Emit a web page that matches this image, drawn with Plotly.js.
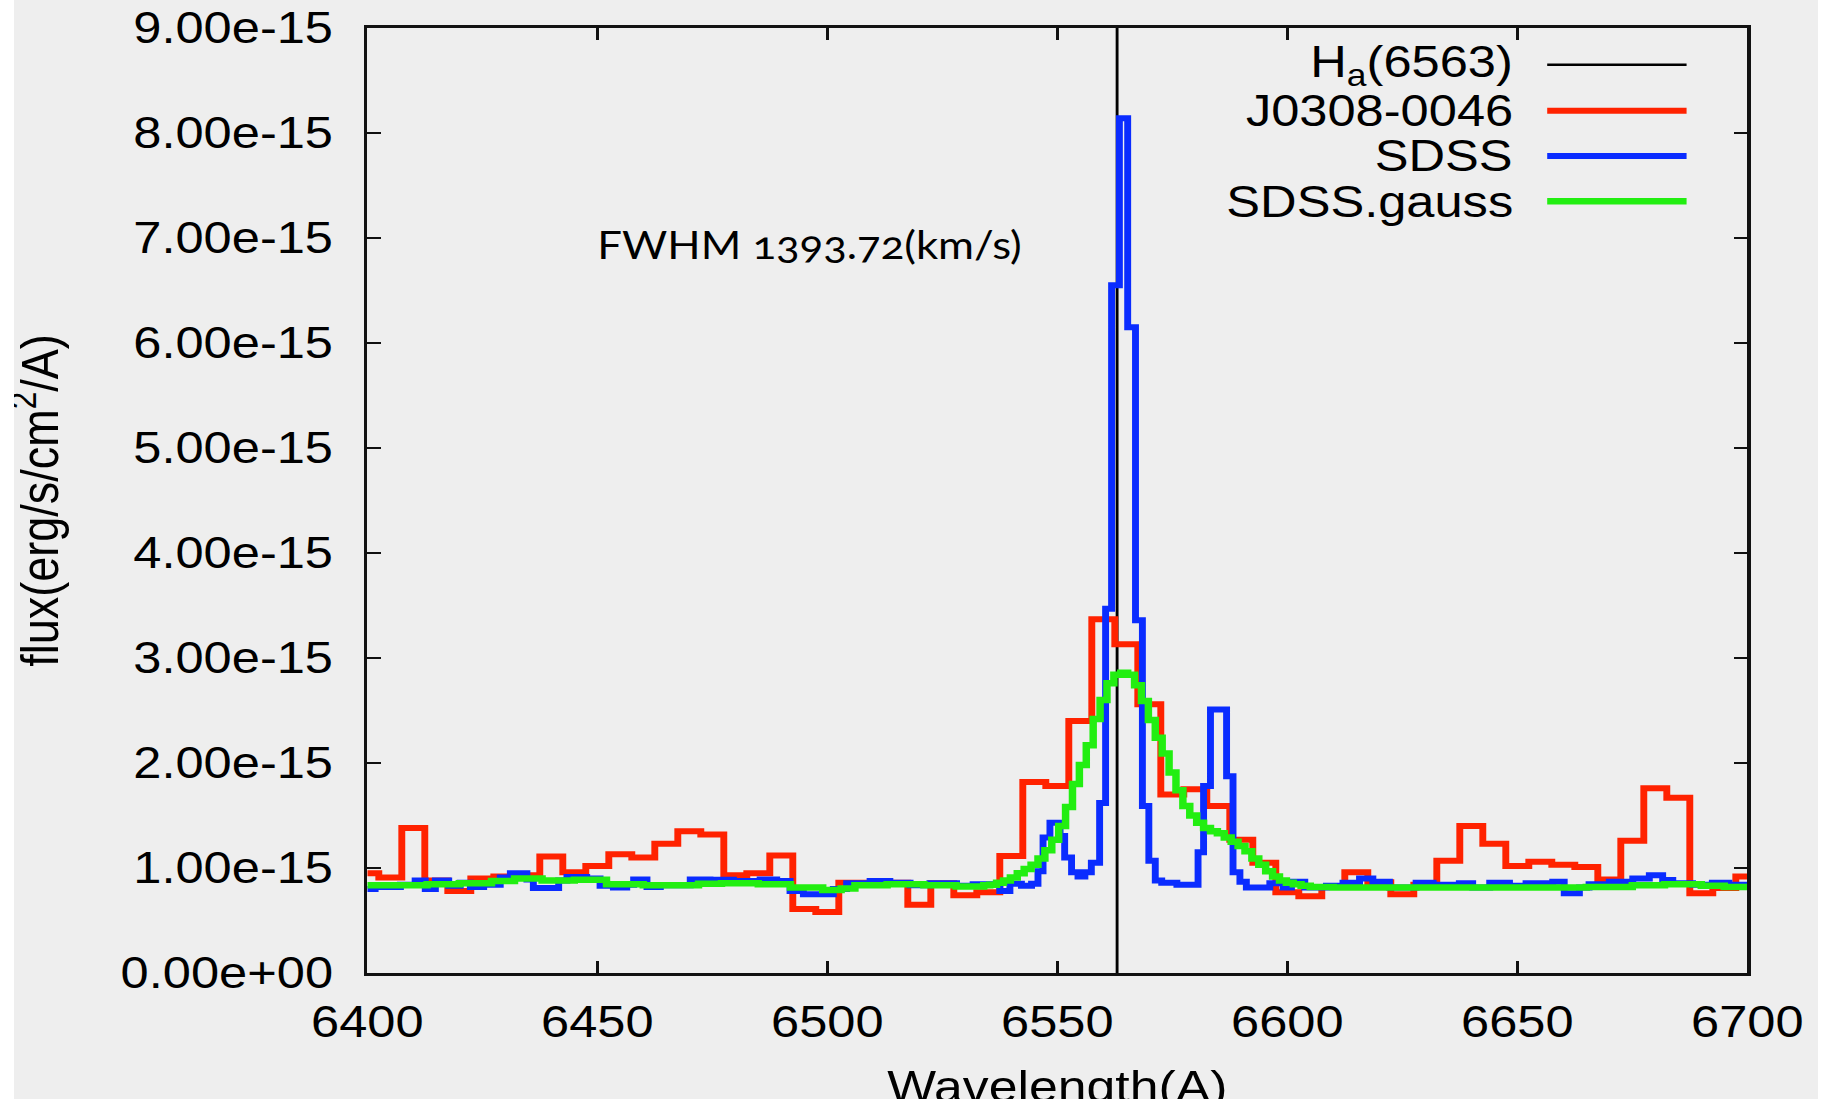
<!DOCTYPE html>
<html>
<head>
<meta charset="utf-8">
<script src="https://cdn.plot.ly/plotly-3.0.1.min.js"></script>
<style>
html, body { margin:0; padding:0; background:#ffffff; width:1833px; height:1104px; overflow:hidden; }
#frame { position:absolute; left:14px; top:0; width:1804px; height:1099px; overflow:hidden; background:#eeeeee; }
#chart { position:absolute; left:-40px; top:0; width:1603.5px; height:1140px; transform:scaleX(1.15); transform-origin:0 0; }
.annotation-text { font-variant-numeric: oldstyle-nums; font-feature-settings: "onum" 1; }
</style>
</head>
<body>
<div id="frame"><div id="chart"></div></div>
<script>
// ---- data (flux in units of 1e-15 erg/s/cm^2/A) ----
const FLUX_UNIT = 1e-15;
const WAVE_RANGE = [6400, 6700];
const FLUX_RANGE = [0, 9];
const HA_WAVE = 6563;

const legendLabels = ["H<sub>a</sub>(6563)", "J0308-0046", "SDSS", "SDSS.gauss"];

const xTickVals = [6400, 6450, 6500, 6550, 6600, 6650, 6700];
const xTickLabels = ["6400", "6450", "6500", "6550", "6600", "6650", "6700"];
const yTickVals = [0, 1, 2, 3, 4, 5, 6, 7, 8, 9];
const yTickLabels = ["0.00e+00", "1.00e-15", "2.00e-15", "3.00e-15", "4.00e-15",
                     "5.00e-15", "6.00e-15", "7.00e-15", "8.00e-15", "9.00e-15"];

// J0308-0046 (bin centres, 5 A bins)
const j0308Wave = [6400, 6405, 6410, 6415, 6420, 6425, 6430, 6435, 6440, 6445,
                   6450, 6455, 6460, 6465, 6470, 6475, 6480, 6485, 6490, 6495,
                   6500, 6505, 6510, 6515, 6520, 6525, 6530, 6535, 6540, 6545,
                   6550, 6555, 6560, 6565, 6570, 6575, 6580, 6585, 6590, 6595,
                   6600, 6605, 6610, 6615, 6620, 6625, 6630, 6635, 6640, 6645,
                   6650, 6655, 6660, 6665, 6670, 6675, 6680, 6685, 6690, 6695, 6700];
const j0308Flux = [0.95, 0.91, 1.38, 0.88, 0.78, 0.90, 0.92, 0.93, 1.11, 0.96,
                   1.02, 1.13, 1.10, 1.23, 1.35, 1.32, 0.93, 0.95, 1.12, 0.61,
                   0.58, 0.86, 0.86, 0.86, 0.65, 0.855, 0.74, 0.77, 1.115, 1.82,
                   1.78, 2.40, 3.37, 3.13, 2.56, 1.70, 1.75, 1.59, 1.27, 1.05,
                   0.77, 0.73, 0.82, 0.96, 0.865, 0.75, 0.84, 1.07, 1.40, 1.23,
                   1.02, 1.06, 1.03, 1.01, 0.89, 1.26, 1.76, 1.67, 0.76, 0.81, 0.92];

// SDSS (step start wavelengths and levels)
const sdssWave = [6400, 6401.7, 6407.2, 6410.4, 6412.6, 6414.8, 6417.7, 6420.2, 6422.4, 6425.3,
                  6428.9, 6431.1, 6434.7, 6436.1, 6441.6, 6443.4, 6447.7, 6450.6, 6453.5, 6456.4,
                  6457.9, 6460.8, 6463.7, 6470.2, 6474.5, 6479.6, 6485.4, 6489.0, 6491.9, 6494.8,
                  6501.3, 6504.2, 6509.3, 6513.6, 6518.0, 6522.3, 6528.1, 6531.7, 6537.5, 6539.7,
                  6542.2, 6544.4, 6545.8, 6546.9, 6548.4, 6550.6, 6551.6, 6553.1, 6554.5, 6556.0,
                  6557.4, 6559.2, 6560.5, 6561.8, 6563.5, 6565.3, 6567.0, 6568.5, 6569.9, 6571.3,
                  6572.7, 6576.0, 6580.6, 6581.8, 6583.3, 6586.8, 6588.2, 6589.7, 6591.1, 6593.3,
                  6596.2, 6599.1, 6600.9, 6603.8, 6608.5, 6612.1, 6615.7, 6618.6, 6622.2, 6628.0,
                  6631.7, 6637.4, 6640.3, 6644.0, 6648.3, 6651.9, 6657.7, 6660.2, 6663.5, 6665.6,
                  6670.0, 6675.1, 6678.7, 6681.6, 6683.8, 6688.1, 6692.4, 6696.0, 6700];
const sdssFlux = [0.80, 0.82, 0.84, 0.88, 0.80, 0.88, 0.83, 0.86, 0.82, 0.84,
                  0.91, 0.95, 0.89, 0.81, 0.88, 0.915, 0.90, 0.83, 0.815, 0.84,
                  0.89, 0.82, 0.836, 0.89, 0.887, 0.877, 0.89, 0.877, 0.78, 0.75,
                  0.80, 0.855, 0.877, 0.86, 0.836, 0.855, 0.83, 0.846, 0.78, 0.85,
                  0.83, 0.85, 0.97, 1.29, 1.43, 1.305, 1.10, 0.96, 0.92, 0.96,
                  1.05, 1.62, 3.47, 6.55, 8.14, 6.15, 3.36, 1.59, 1.07, 0.88,
                  0.86, 0.84, 1.15, 1.78, 2.51, 1.875, 0.96, 0.87, 0.815, 0.815,
                  0.855, 0.815, 0.87, 0.815, 0.83, 0.86, 0.90, 0.87, 0.815, 0.86,
                  0.84, 0.855, 0.815, 0.86, 0.83, 0.855, 0.87, 0.76, 0.815, 0.845,
                  0.87, 0.90, 0.93, 0.885, 0.855, 0.84, 0.86, 0.84, 0.84];

// SDSS.gauss (step start wavelengths and levels)
const gaussWave = [6400, 6406, 6413, 6420, 6427, 6432, 6438, 6445, 6452, 6460,
                   6467, 6472, 6477, 6485, 6492, 6499, 6503, 6506, 6513, 6521,
                   6528, 6534, 6535.3, 6536.8, 6538.3, 6539.8, 6541.3, 6542.8, 6544.3, 6545.8,
                   6547.3, 6548.8, 6550.3, 6551.8, 6553.3, 6554.8, 6556.3, 6557.8, 6559.3, 6560.8,
                   6562.3, 6563.8, 6565.3, 6566.8, 6568.3, 6569.8, 6571.3, 6572.8, 6574.3, 6575.8,
                   6577.3, 6578.8, 6580.3, 6581.8, 6583.3, 6584.8, 6586.3, 6587.8, 6589.3, 6590.8,
                   6592.3, 6593.8, 6595.3, 6596.8, 6598.3, 6599.8, 6601.3, 6603.0, 6605.0, 6610,
                   6625, 6640, 6655, 6665, 6675, 6682, 6690, 6695, 6700];
const gaussFlux = [0.836, 0.836, 0.846, 0.855, 0.877, 0.90, 0.88, 0.887, 0.846, 0.836,
                   0.836, 0.85, 0.855, 0.846, 0.815, 0.79, 0.805, 0.836, 0.846, 0.836,
                   0.824, 0.836, 0.84, 0.86, 0.88, 0.91, 0.95, 0.99, 1.03, 1.09,
                   1.17, 1.27, 1.40, 1.58, 1.80, 1.98, 2.17, 2.42, 2.60, 2.76,
                   2.84, 2.86, 2.84, 2.74, 2.59, 2.41, 2.24, 2.09, 1.91, 1.74,
                   1.59, 1.50, 1.43, 1.38, 1.35, 1.33, 1.29, 1.25, 1.21, 1.16,
                   1.09, 1.03, 0.97, 0.92, 0.88, 0.86, 0.845, 0.83, 0.82, 0.815,
                   0.815, 0.815, 0.815, 0.82, 0.835, 0.845, 0.83, 0.82, 0.815];

const fwhmText = "FWHM 1393.72(km/s)";

// ---- styles ----
const COLORS = ["#000000", "#ff2200", "#0a2cff", "#22ee11"];
const WIDTHS = [2.5, 6, 6, 6.5];
const FONT = "'Liberation Sans', Arial, Helvetica, sans-serif";
const scale = v => v * FLUX_UNIT;

const traces = [
  { x: [HA_WAVE, HA_WAVE], y: FLUX_RANGE.map(scale), mode: "lines", name: legendLabels[0],
    line: { color: COLORS[0], width: WIDTHS[0] }, showlegend: false },
  { x: j0308Wave, y: j0308Flux.map(scale), mode: "lines", name: legendLabels[1],
    line: { color: COLORS[1], width: WIDTHS[1], shape: "hvh" }, showlegend: false },
  { x: sdssWave, y: sdssFlux.map(scale), mode: "lines", name: legendLabels[2],
    line: { color: COLORS[2], width: WIDTHS[2], shape: "hv" }, showlegend: false },
  { x: gaussWave, y: gaussFlux.map(scale), mode: "lines", name: legendLabels[3],
    line: { color: COLORS[3], width: WIDTHS[3], shape: "hv" }, showlegend: false }
];

// custom legend (text left of sample line, like the original)
const legendRows = [0.961, 0.9125, 0.8646, 0.8167];
const annotations = legendLabels.map((t, i) => ({
  xref: "paper", yref: "paper", x: 0.832, y: legendRows[i], xanchor: "right", yanchor: "middle",
  text: t, showarrow: false, font: { family: FONT, size: 44, color: "#000" }
}));
annotations.push({
  xref: "x", yref: "y", x: 6496, y: scale(6.94), xanchor: "center", yanchor: "middle",
  text: fwhmText, showarrow: false, font: { family: "Lato, 'Noto Sans', sans-serif", size: 38, color: "#000" }
});
const shapes = legendLabels.map((t, i) => ({
  type: "line", xref: "paper", yref: "paper", x0: 0.855, x1: 0.956, y0: legendRows[i], y1: legendRows[i],
  line: { color: COLORS[i], width: WIDTHS[i] }
}));

const axisCommon = {
  showgrid: false, zeroline: false, showline: true, linewidth: 3, linecolor: "#111",
  mirror: "ticks", ticks: "inside", ticklen: 12, tickwidth: 2.5, tickcolor: "#111",
  tickfont: { family: FONT, size: 44, color: "#000" }, automargin: false
};

const layout = {
  width: 1603.5, height: 1140,
  margin: { l: 342, r: 61.5, t: 28, b: 166.5 },
  paper_bgcolor: "#eeeeee", plot_bgcolor: "#eeeeee",
  showlegend: false,
  xaxis: Object.assign({}, axisCommon, {
    range: WAVE_RANGE, tickmode: "array", tickvals: xTickVals, ticktext: xTickLabels,
    ticklabelstandoff: 8,
    title: { text: "Wavelength(A)", font: { family: FONT, size: 45, color: "#000" }, standoff: 26 }
  }),
  yaxis: Object.assign({}, axisCommon, {
    range: FLUX_RANGE.map(scale), tickmode: "array", tickvals: yTickVals.map(scale), ticktext: yTickLabels,
    ticklabelstandoff: 18,
    title: { text: "flux(erg/s/cm<sup>2</sup>/A)", font: { family: FONT, size: 45, color: "#000" }, standoff: 40 }
  }),
  annotations: annotations,
  shapes: shapes
};

Plotly.newPlot("chart", traces, layout, { staticPlot: true, displayModeBar: false });
</script>
</body>
</html>
